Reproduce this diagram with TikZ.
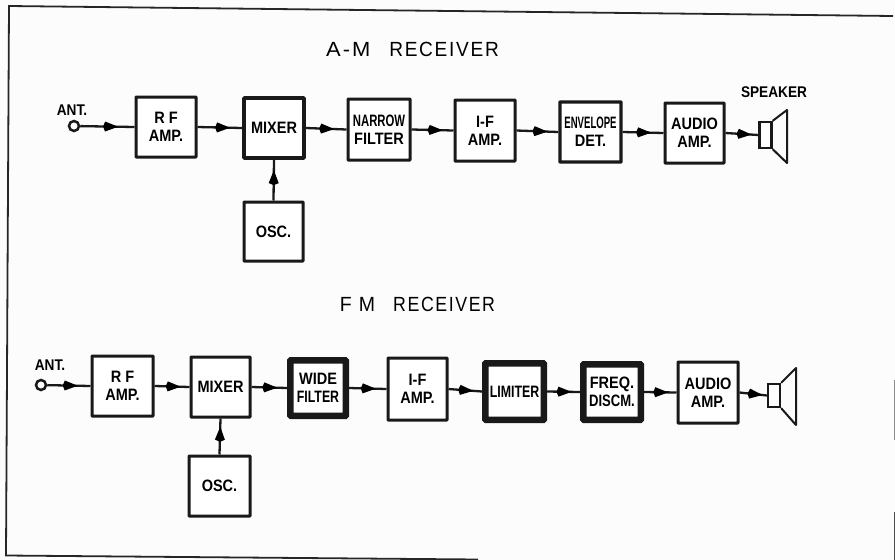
\documentclass[tikz,border=0pt]{standalone}
\usepackage{fontspec}
\setmainfont[FakeStretch=0.88]{Liberation Sans}
\newfontfamily\titlefont[LetterSpace=9]{Liberation Sans}
\usetikzlibrary{decorations.markings,arrows.meta}
\newcommand{\nw}[1]{\scalebox{0.78}[1]{#1}}
\tikzset{
  x=1pt,y=1pt,
  block/.style={draw=black!90,line width=3pt,inner sep=0pt,align=center,fill=white,rounded corners=0.6pt,
    font=\fontsize{16.5}{18}\selectfont\bfseries},
  heavy/.style={block,line width=6.5pt},
  label/.style={inner sep=0pt,font=\fontsize{15.5}{17}\selectfont\bfseries},
  title/.style={inner sep=0pt,font=\fontsize{20.5}{22}\selectfont\titlefont},
  flow/.style={draw=black!90,line width=2.3pt,postaction={decorate},
    decoration={markings,mark=at position #1 with {\fill[black] (-7,0) -- (-5,-5) -- (8,0) -- (-5,5) -- cycle;}}},
  flow/.default=0.52,
  ant/.style={circle,draw=black!90,line width=2.5pt,minimum size=10pt,inner sep=0pt,fill=white},
  horn/.style={draw=black!90,line width=2.3pt,inner sep=0pt,fill=white},
  cone/.style={draw=black!90,line width=2pt,line join=round},
}
\begin{document}
\begin{tikzpicture}
\useasboundingbox (0,-560) rectangle (895,0);
\fill[white!98.8!black] (0,-560) rectangle (895,0);
% frame
\draw[black!85,line width=1.8pt] (893,-16) -- (9,-6) -- (6,-555.5) -- (478,-559.5);
\draw[black!45,line width=1.2pt] (894.5,-380) -- (894.5,-440);
\draw[black!70,line width=1.2pt] (894.5,-512) -- (894.5,-560);

\node[title] (amt) at (412.5,-49) {\scalebox{1.07}[1]{A-M}\hspace{19pt}\scalebox{0.93}[1]{RECEIVER}};
\node[title] (fmt) at (417.5,-304) {\scalebox{0.95}[1]{F M}\hspace{18pt}\scalebox{0.865}[1]{RECEIVER}};

% A-M chain
\node[ant] (a0) at (74,-126) {};
\node[label] (al) at (72,-110) {ANT.};
\node[block,minimum width=60pt,minimum height=60pt] (a1) at (166,-127) {R F\\AMP.};
\node[block,line width=3.6pt,minimum width=60pt,minimum height=60pt] (a2) at (274,-128) {MIXER};
\node[block,minimum width=62pt,minimum height=61pt] (a3) at (379,-129.5) {\nw{NARROW}\\FILTER};
\node[block,minimum width=60pt,minimum height=61pt] (a4) at (485,-130.5) {I-F\\AMP.};
\node[block,line width=3.4pt,minimum width=61pt,minimum height=60pt] (a5) at (590.5,-132) {\scalebox{0.66}[1]{ENVELOPE}\\DET.};
\node[block,minimum width=59pt,minimum height=60pt] (a6) at (694.5,-133) {AUDIO\\AMP.};
\node[block,minimum width=59pt,minimum height=59pt] (ao) at (273.5,-231.5) {OSC.};
\node[horn,minimum width=12pt,minimum height=26pt] (as) at (765.5,-135) {};
\node[label] (asl) at (774,-92) {SPEAKER};
\coordinate (at1) at (787,-110);
\coordinate (at2) at (787,-163);
\draw[cone] (as.north east) -- (at1) -- (at2) -- (as.south east);

\draw[flow=0.55] (a0) -- (a1.west);
\draw[flow=0.55] (a1.east) -- (a2.west);
\draw[flow=0.5] (a2.east) -- (a3.west);
\draw[flow=0.55] (a3.east) -- (a4.west);
\draw[flow=0.55] (a4.east) -- (a5.west);
\draw[flow=0.5] (a5.east) -- (a6.west);
\draw[flow=0.55] (a6.east) -- (as.west);
\draw[flow=0.55] (ao.north) -- (a2.south);

% F M chain
\node[ant] (f0) at (41,-385) {};
\node[label] (fl) at (50,-365) {ANT.};
\node[block,minimum width=61pt,minimum height=60pt] (f1) at (122.5,-386) {R F\\AMP.};
\node[block,minimum width=59pt,minimum height=60pt] (f2) at (220.5,-387) {MIXER};
\node[heavy,minimum width=55.5pt,minimum height=55.5pt] (f3) at (318,-388) {WIDE\\\scalebox{0.85}[1]{FILTER}};
\node[block,minimum width=59pt,minimum height=62pt] (f4) at (417.5,-389) {I-F\\AMP.};
\node[heavy,minimum width=58.5pt,minimum height=56.5pt] (f5) at (514.5,-391.5) {\scalebox{0.85}[1]{LIMITER}};
\node[heavy,minimum width=57.5pt,minimum height=55.5pt] (f6) at (612,-392) {FREQ.\\\scalebox{0.9}[1]{DISCM.}};
\node[block,minimum width=60pt,minimum height=61pt] (f7) at (708,-392.5) {AUDIO\\AMP.};
\node[block,minimum width=61pt,minimum height=60pt] (fo) at (219.5,-486) {OSC.};
\node[horn,minimum width=12pt,minimum height=23pt] (fs) at (774,-395.5) {};
\coordinate (ft1) at (796,-368);
\coordinate (ft2) at (796,-425);
\draw[cone] (fs.north east) -- (ft1) -- (ft2) -- (fs.south east);

\draw[flow=0.52] (f0) -- (f1.west);
\draw[flow=0.52] (f1.east) -- (f2.west);
\draw[flow=0.5] (f2.east) -- (f3.west);
\draw[flow=0.5] (f3.east) -- (f4.west);
\draw[flow=0.5] (f4.east) -- (f5.west);
\draw[flow=0.5] (f5.east) -- (f6.west);
\draw[flow=0.5] (f6.east) -- (f7.west);
\draw[flow=0.55] (f7.east) -- (fs.west);
\draw[flow=0.55] (fo.north) -- (f2.south);
\end{tikzpicture}
\end{document}
